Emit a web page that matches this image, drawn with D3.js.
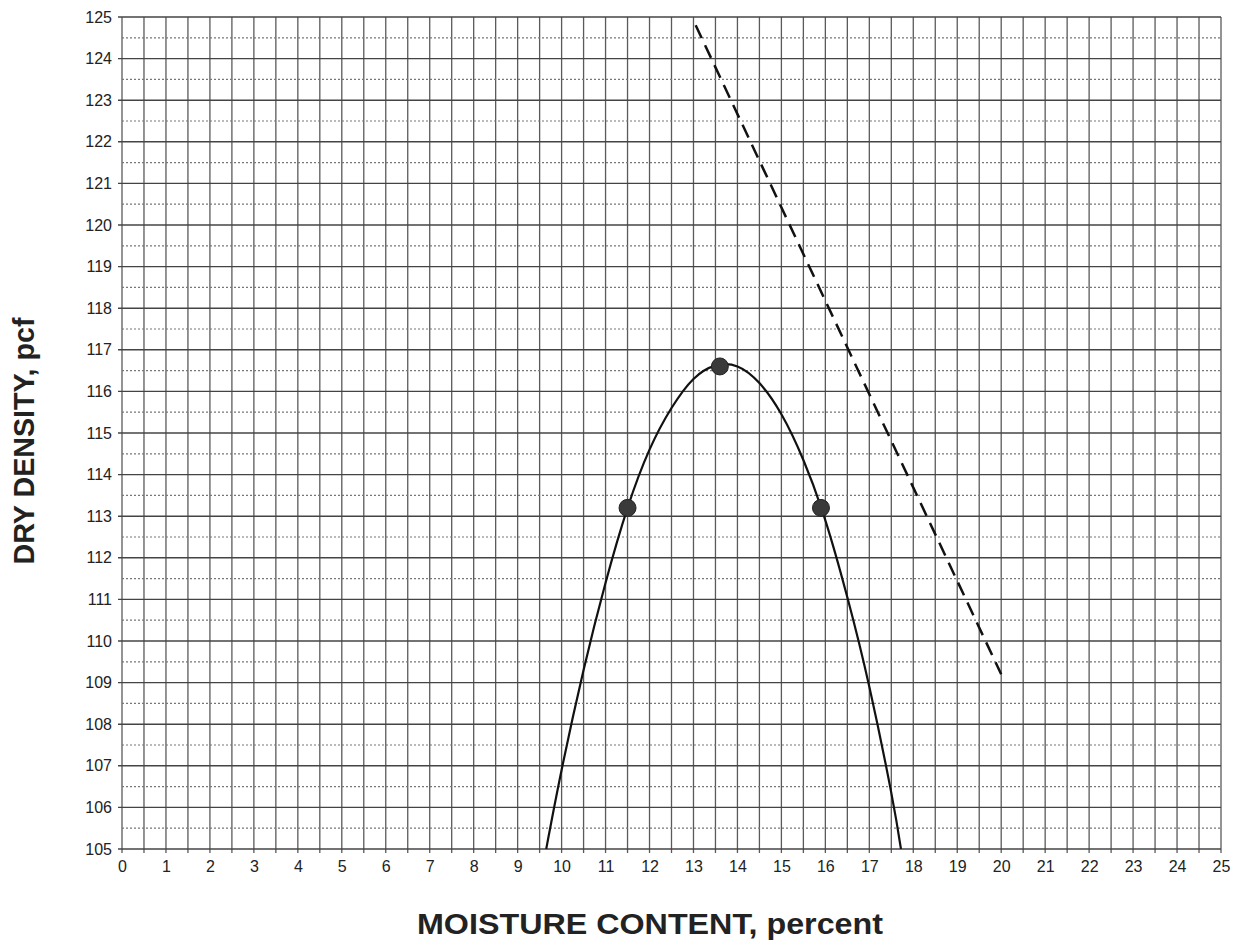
<!DOCTYPE html>
<html><head><meta charset="utf-8">
<script src="https://cdn.jsdelivr.net/npm/d3@7"></script>
<style>body{margin:0;background:#fff}svg{display:block}</style>
</head><body>
<svg id="c" width="1233" height="947"></svg>
<script>
// Data
const xTicks = d3.range(0, 26, 1);          // moisture content, percent
const yTicks = d3.range(105, 126, 1);       // dry density, pcf
const testPoints = [                        // measured compaction points
  {m: 11.5, d: 113.2},
  {m: 13.6, d: 116.6},
  {m: 15.9, d: 113.2}
];
const curveM = [9.65, 10.0, 10.5, 11.0, 11.5, 12.0, 12.5, 13.0, 13.5, 14.0, 14.5, 15.0, 15.5, 16.0, 16.5, 17.0, 17.5, 17.72];
const curveD = [105.0, 106.9, 109.3, 111.4, 113.2, 114.6, 115.6, 116.3, 116.62, 116.6, 116.2, 115.45, 114.35, 112.9, 111.05, 108.9, 106.35, 105.0];
const zavM = [13.05, 20.0];                 // zero air voids line
const zavD = [124.8, 109.2];

const svg = d3.select('#c');
const x = d3.scaleLinear().domain([0, 25]).range([122, 1221]);
const y = d3.scaleLinear().domain([105, 125]).range([849, 17]);
const g = svg.append('g');

// vertical grid every 0.5
g.selectAll('line.v').data(d3.range(0, 25.01, 0.5)).join('line')
  .attr('x1', d => x(d)).attr('x2', d => x(d))
  .attr('y1', y(125)).attr('y2', y(105) + 4)
  .attr('stroke', '#5a5a5a').attr('stroke-width', 1.3);
// horizontal half lines dotted
g.selectAll('line.hh').data(d3.range(105.5, 125, 1)).join('line')
  .attr('x1', x(0)).attr('x2', x(25))
  .attr('y1', d => y(d)).attr('y2', d => y(d))
  .attr('stroke', '#777').attr('stroke-width', 1.2).attr('stroke-dasharray', '2,2');
// horizontal integer lines solid
g.selectAll('line.h').data(yTicks).join('line')
  .attr('x1', x(0) - 4).attr('x2', x(25))
  .attr('y1', d => y(d)).attr('y2', d => y(d))
  .attr('stroke', '#444').attr('stroke-width', 1.4);

// axes labels via d3 axes
const xAxis = d3.axisBottom(x).tickValues(xTicks).tickSize(0).tickPadding(12).tickFormat(d3.format('d'));
const yAxis = d3.axisLeft(y).tickValues(yTicks).tickSize(0).tickPadding(10).tickFormat(d3.format('d'));
const xa = svg.append('g').attr('transform', `translate(0,${y(105)})`).call(xAxis);
const ya = svg.append('g').attr('transform', `translate(${x(0)},0)`).call(yAxis);
[xa, ya].forEach(a => {
  a.select('.domain').remove();
  a.selectAll('text').attr('font-family', 'Liberation Sans, Arial, sans-serif')
    .attr('font-size', 16).attr('fill', '#222');
});

// zero air voids dashed line
svg.append('path')
  .attr('d', d3.line()(zavM.map((m, i) => [x(m), y(zavD[i])])))
  .attr('fill', 'none').attr('stroke', '#111').attr('stroke-width', 2.5)
  .attr('stroke-dasharray', '14,8');

// compaction curve
const curvePts = curveM.map((m, i) => [x(m), y(curveD[i])]);
svg.append('path')
  .attr('d', d3.line().curve(d3.curveNatural)(curvePts))
  .attr('fill', 'none').attr('stroke', '#111').attr('stroke-width', 2.2);

// test points
svg.selectAll('circle.p').data(testPoints).join('circle')
  .attr('cx', d => x(d.m)).attr('cy', d => y(d.d)).attr('r', 8.5)
  .attr('fill', '#3a3a3a').attr('stroke', '#222').attr('stroke-width', 1);

// titles
svg.append('text').attr('x', 650).attr('y', 934).attr('text-anchor', 'middle')
  .attr('font-family', 'Liberation Sans, Arial, sans-serif').attr('font-weight', 'bold')
  .attr('font-size', 29).attr('textLength', 466).attr('lengthAdjust', 'spacingAndGlyphs')
  .attr('fill', '#222').text('MOISTURE CONTENT, percent');
svg.append('text').attr('transform', 'translate(34,441) rotate(-90)').attr('text-anchor', 'middle')
  .attr('font-family', 'Liberation Sans, Arial, sans-serif').attr('font-weight', 'bold')
  .attr('font-size', 29).attr('textLength', 247).attr('lengthAdjust', 'spacingAndGlyphs')
  .attr('fill', '#222').text('DRY DENSITY, pcf');
</script>
</body></html>
